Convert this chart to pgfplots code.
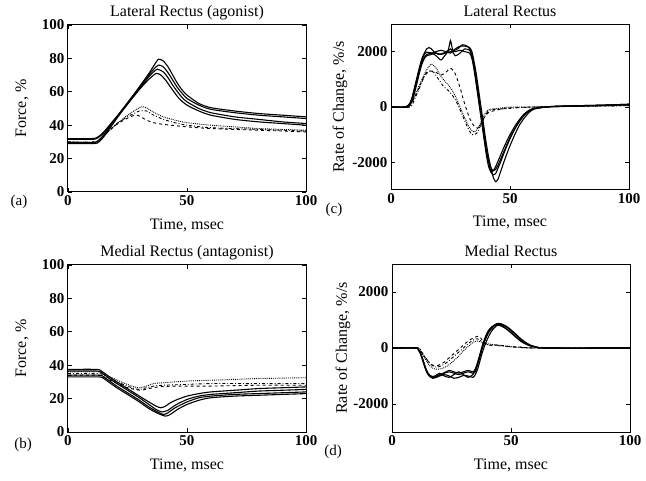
\documentclass[border=0pt]{standalone}
\usepackage{fontspec}
\setmainfont{Liberation Serif}
\usepackage{pgfplots}
\pgfplotsset{compat=1.18}
\pgfplotsset{
  panel/.style={
    scale only axis, width=238pt,
    xmin=0, xmax=100, xtick={0,50,100},
    /pgf/number format/assume math mode=true,
    /pgf/number format/set thousands separator={},
    tick label style={font=\fontsize{15}{15}\selectfont\bfseries},
    label style={font=\fontsize{16}{16}\selectfont},
    title style={font=\fontsize{16}{16}\selectfont, at={(axis description cs:0.5,1)}, anchor=base, yshift=2pt},
    axis line style={line width=1pt},
    every tick/.style={black, line width=0.9pt},
    major tick length=4pt,
    tick align=inside,
    xlabel={Time, msec},
    xlabel style={at={(axis description cs:0.5,-0.198)}, anchor=center},
    clip=true,
  },
  sol/.style={black, line width=1.1pt, smooth, tension=0.4},
  dsh/.style={black, line width=0.9pt, dashed, smooth, tension=0.4},
  dot/.style={black, line width=0.9pt, densely dotted, smooth, tension=0.4},
  dd/.style={black, line width=0.9pt, dash dot, smooth, tension=0.4},
}
\begin{document}
\begin{tikzpicture}
\useasboundingbox (0,0) rectangle (646pt,480pt);
% ---------------- (a)
\begin{axis}[panel, at={(68pt,288pt)}, anchor=south west, height=167pt,
  ymin=0, ymax=100, ytick={0,20,40,60,80,100},
  title={Lateral Rectus (agonist)}, ylabel={Force, \%},
  ylabel style={at={(axis description cs:-0.193,0.5)}, anchor=center}]
\addplot[sol] coordinates {(0,32) (10,32) (12,32.5) (14,34.5) (16,37.5) (18,41) (21,46) (24,51.5) (28,59) (31,65) (34,71) (36,75.5) (38,79.5) (40,78.5) (42,75) (44,70) (46,65) (48,61) (50,58) (55,53) (60,50.5) (70,48.5) (80,47) (90,46) (100,45)};
\addplot[sol] coordinates {(0,31.5) (10,31.5) (12,32) (14,34) (16,37) (18,40.5) (21,46) (24,51.5) (28,59) (31,64.5) (34,70) (36,73.5) (38,76) (40,75) (42,71.5) (44,67) (46,62.5) (48,59) (50,56) (55,52) (60,49.5) (70,47.5) (80,46) (90,45) (100,44)};
\addplot[sol] coordinates {(0,29.5) (10,29.5) (12,30) (14,32.5) (16,36) (18,40) (21,45.5) (24,51) (28,58) (31,63.5) (34,69) (36,72) (37.5,73.5) (40,72) (42,68.5) (44,64) (46,60) (48,56.5) (50,54) (55,50) (60,47.5) (70,45) (80,43.5) (90,42) (100,41)};
\addplot[sol] coordinates {(0,29) (11,29) (13,30) (15,33) (17,37) (19,41) (22,47) (25,52.5) (28,58) (31,63) (34,67.5) (37,71) (39,70) (41,67) (43,63) (45,59) (47,55.5) (50,52) (55,48.5) (60,46) (70,43.5) (80,42) (90,41) (100,40)};
\addplot[dot] coordinates {(0,30) (11,30) (13,31) (16,35) (20,40) (25,46) (30,50.5) (32,51) (34,49.5) (37,47) (40,45) (45,43) (50,41.5) (60,40) (70,39) (80,38) (100,37)};
\addplot[dd] coordinates {(0,30) (11,30) (13,31) (16,35) (20,40.5) (25,45) (30,48.5) (33,48.5) (36,46) (40,43.5) (45,41.5) (50,40) (60,38.5) (80,37.5) (100,36.5)};
\addplot[dsh] coordinates {(0,29.5) (11,29.5) (13,31) (16,35) (20,40) (24,43.5) (28,46) (30,45.5) (33,43) (36,41.5) (40,40.5) (50,39) (60,38) (80,37) (100,36)};
\end{axis}
% ---------------- (c)
\begin{axis}[panel, at={(391pt,290pt)}, anchor=south west, height=166pt,
  ymin=-3000, ymax=3000, ytick={-2000,0,2000},
  title={Lateral Rectus}, ylabel={Rate of Change, \%/s},
  ylabel style={at={(axis description cs:-0.214,0.5)}, anchor=center}]
\addplot[sol] coordinates {(0,0) (6,0) (7,50) (8,150) (9,400) (10,750) (11,1100) (12,1450) (13,1750) (14,1950) (15,2100) (16,2150) (17,2100) (18,2000) (20,1900) (22,1950) (24,2050) (25,2400) (26,2050) (28,2100) (30,2250) (32,2200) (33,2100) (34,1800) (35,1300) (36,700) (37,100) (38,-500) (39,-1100) (40,-1700) (41,-2150) (42,-2350) (43,-2300) (44,-2150) (45,-1950) (46,-1750) (48,-1350) (50,-1000) (52,-700) (54,-450) (56,-250) (58,-120) (60,-50) (65,0) (70,30) (80,50) (90,70) (100,100)};
\addplot[sol] coordinates {(0,0) (6,0) (7,40) (8,130) (9,350) (10,700) (11,1050) (12,1400) (13,1700) (14,1900) (15,1980) (17,1950) (19,1850) (21,1700) (23,1900) (25,2100) (27,1850) (29,1950) (31,2100) (33,2050) (34,1900) (35,1500) (36,900) (37,300) (38,-300) (39,-900) (40,-1500) (41,-2000) (42,-2350) (43,-2450) (44,-2400) (45,-2200) (46,-2000) (48,-1550) (50,-1150) (52,-800) (54,-520) (56,-300) (58,-150) (60,-60) (65,0) (70,20) (80,40) (90,60) (100,90)};
\addplot[sol] coordinates {(0,0) (7,0) (8,100) (9,300) (10,600) (11,950) (12,1300) (13,1600) (14,1800) (15,1900) (17,1950) (19,2000) (21,2050) (23,2000) (25,1950) (27,2100) (29,2200) (31,2200) (33,2150) (34,2000) (35,1600) (36,1100) (37,500) (38,-100) (39,-700) (40,-1300) (41,-1800) (42,-2200) (43,-2550) (44,-2700) (45,-2600) (46,-2350) (48,-1850) (50,-1400) (52,-1000) (54,-650) (56,-400) (58,-200) (60,-80) (65,0) (70,30) (80,50) (90,70) (100,100)};
\addplot[sol] coordinates {(0,0) (7,0) (8,80) (9,250) (10,550) (11,900) (12,1250) (13,1550) (14,1750) (15,1850) (17,1900) (19,1950) (21,1900) (23,1950) (25,2000) (27,2000) (29,2050) (31,2000) (33,1950) (34,1750) (35,1350) (36,800) (37,200) (38,-400) (39,-1000) (40,-1550) (41,-1950) (42,-2200) (43,-2300) (44,-2250) (45,-2100) (46,-1900) (48,-1500) (50,-1100) (52,-780) (54,-500) (56,-280) (58,-130) (60,-50) (65,0) (70,20) (80,40) (90,60) (100,90)};
\addplot[dot] coordinates {(0,0) (7,0) (9,200) (11,600) (13,1000) (15,1350) (17,1550) (19,1400) (21,1100) (23,900) (25,700) (27,400) (29,0) (31,-400) (33,-750) (35,-900) (37,-700) (39,-300) (41,-100) (45,-50) (50,0) (60,0) (100,50)};
\addplot[dsh] coordinates {(0,0) (7,0) (9,200) (11,550) (13,950) (15,1250) (17,1300) (19,1250) (21,1150) (23,1250) (25,1400) (27,1200) (29,700) (31,100) (33,-400) (35,-700) (37,-750) (39,-400) (41,-200) (45,-100) (50,-30) (60,0) (100,60)};
\addplot[dd] coordinates {(0,0) (8,0) (10,300) (12,700) (14,1100) (16,1300) (18,1250) (20,1000) (22,750) (24,600) (26,400) (28,100) (30,-300) (32,-700) (34,-1000) (36,-950) (38,-600) (40,-250) (42,-100) (50,-50) (60,0) (100,50)};
\end{axis}
% ---------------- (b)
\begin{axis}[panel, at={(68pt,48pt)}, anchor=south west, height=167pt,
  ymin=0, ymax=100, ytick={0,20,40,60,80,100},
  title={Medial Rectus (antagonist)}, ylabel={Force, \%},
  ylabel style={at={(axis description cs:-0.193,0.5)}, anchor=center}]
\addplot[sol] coordinates {(0,37.5) (12,37.5) (14,36.5) (17,33.5) (20,30.5) (25,26) (30,21.5) (34,18) (37,15.5) (39,14.5) (41,15.5) (43,17.5) (46,19.5) (50,21.5) (55,23) (60,24) (70,25) (80,26) (90,26.5) (100,27)};
\addplot[sol] coordinates {(0,36.5) (12,36.5) (14,35.5) (17,32.5) (20,29.5) (25,25) (30,20.5) (34,16.5) (37,13.5) (39.5,12) (42,13) (45,16) (50,19.5) (55,21.5) (60,22.5) (70,23.5) (80,24.5) (90,25) (100,25.5)};
\addplot[sol] coordinates {(0,34) (13,34) (15,33) (18,30) (21,27) (25,23.5) (30,19) (34,15) (37,12.5) (40,10.5) (42,11.5) (45,14.5) (50,18) (55,20.5) (60,21.5) (70,22.5) (80,23) (90,23.5) (100,24)};
\addplot[sol] coordinates {(0,33) (13,33) (15,32) (18,29) (21,26) (25,22.5) (30,18) (34,14) (38,11) (41,9.5) (43,10.5) (46,13.5) (50,16.5) (55,19) (60,20.5) (70,21.5) (80,22) (90,22.5) (100,23)};
\addplot[dot] coordinates {(0,36) (13,36) (16,34) (20,31.5) (24,29) (28,27) (30,26.5) (33,27.5) (36,29) (40,29.5) (50,30.5) (60,31) (70,31.5) (80,32) (100,32.5)};
\addplot[dd] coordinates {(0,35) (13,35) (16,33) (20,30.5) (24,28) (28,26) (30,25.5) (33,26.5) (36,27.5) (40,28) (50,28.5) (60,29) (80,29) (100,29)};
\addplot[dsh] coordinates {(0,34) (13,34) (16,32) (20,29.5) (24,27) (28,25.5) (31,25) (34,26) (38,27) (45,27.5) (60,27.5) (80,28) (100,28)};
\end{axis}
% ---------------- (d)
\begin{axis}[panel, at={(392pt,48pt)}, anchor=south west, height=168pt,
  ymin=-3000, ymax=3000, ytick={-2000,0,2000},
  title={Medial Rectus}, ylabel={Rate of Change, \%/s},
  ylabel style={at={(axis description cs:-0.206,0.5)}, anchor=center}]
\addplot[sol] coordinates {(0,0) (10,0) (11,-50) (12,-200) (13,-450) (14,-700) (15,-900) (16,-1000) (17,-1050) (18,-1050) (20,-950) (22,-900) (24,-850) (26,-900) (28,-950) (30,-900) (32,-850) (34,-900) (35,-850) (36,-600) (37,-300) (38,0) (39,250) (40,450) (41,600) (42,700) (43,800) (44,850) (45,850) (46,820) (48,700) (50,550) (52,400) (54,250) (56,150) (58,80) (60,40) (65,0) (100,0)};
\addplot[sol] coordinates {(0,0) (10,0) (11,-40) (12,-180) (13,-420) (14,-680) (15,-880) (16,-980) (17,-1020) (18,-1000) (20,-900) (22,-1000) (24,-1050) (26,-950) (28,-850) (30,-950) (32,-1050) (34,-950) (35,-800) (36,-550) (37,-250) (38,50) (39,300) (40,500) (41,650) (42,750) (43,820) (44,870) (45,880) (46,860) (48,760) (50,620) (52,460) (54,300) (56,180) (58,100) (60,50) (65,0) (100,0)};
\addplot[sol] coordinates {(0,0) (10,0) (11,-60) (12,-220) (13,-480) (14,-740) (15,-930) (16,-1030) (17,-1080) (18,-1070) (20,-1000) (22,-950) (24,-1000) (26,-1080) (28,-1050) (30,-980) (32,-1000) (34,-1050) (35,-950) (36,-750) (37,-450) (38,-150) (39,100) (40,300) (41,480) (42,620) (43,720) (44,800) (45,840) (46,850) (48,780) (50,650) (52,500) (54,340) (56,210) (58,110) (60,50) (65,0) (100,0)};
\addplot[sol] coordinates {(0,0) (10,0) (11,-40) (12,-190) (13,-430) (14,-690) (15,-890) (16,-990) (17,-1040) (18,-1030) (20,-970) (22,-880) (24,-800) (26,-850) (28,-900) (30,-850) (32,-800) (34,-850) (35,-750) (36,-500) (37,-200) (38,100) (39,350) (40,550) (41,680) (42,760) (43,800) (44,820) (45,810) (46,780) (48,680) (50,540) (52,390) (54,250) (56,150) (58,80) (60,40) (65,0) (100,0)};
\addplot[dsh] coordinates {(0,0) (11,0) (12,-100) (14,-350) (16,-550) (18,-650) (20,-600) (22,-500) (24,-350) (26,-200) (28,-50) (30,100) (32,250) (34,350) (36,420) (37,400) (38,250) (39,150) (40,100) (45,100) (50,50) (55,30) (60,0) (100,0)};
\addplot[dot] coordinates {(0,0) (11,0) (12,-100) (14,-400) (16,-650) (18,-750) (20,-750) (22,-700) (24,-600) (26,-450) (28,-300) (30,-100) (32,50) (34,200) (36,250) (38,200) (40,150) (45,100) (50,50) (60,0) (100,0)};
\addplot[dd] coordinates {(0,0) (11,0) (12,-80) (14,-330) (16,-560) (18,-680) (20,-660) (22,-580) (24,-450) (26,-300) (28,-150) (30,0) (32,150) (34,280) (36,330) (38,200) (40,120) (45,80) (50,40) (60,0) (100,0)};
\end{axis}
% panel letters
\node[font=\fontsize{15}{15}\selectfont] at (19pt,278pt) {(a)};
\node[font=\fontsize{15}{15}\selectfont] at (334pt,270pt) {(c)};
\node[font=\fontsize{15}{15}\selectfont] at (23pt,35pt) {(b)};
\node[font=\fontsize{15}{15}\selectfont] at (333pt,28pt) {(d)};
\end{tikzpicture}
\end{document}
